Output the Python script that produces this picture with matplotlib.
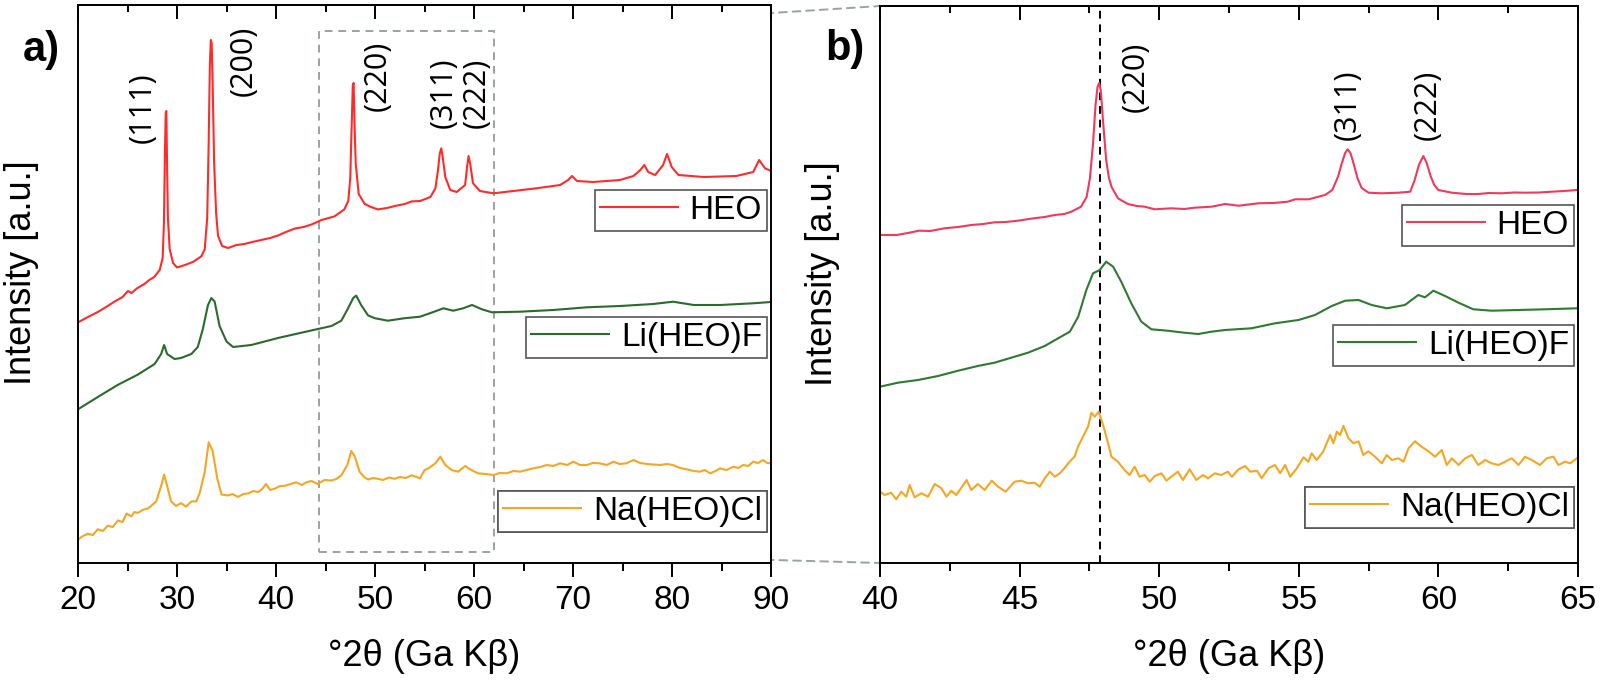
import matplotlib
matplotlib.use("Agg")
import matplotlib.pyplot as plt
from matplotlib.patches import Rectangle, ConnectionPatch
from matplotlib.ticker import MultipleLocator

plt.rcParams['font.family'] = ['Liberation Sans', 'DejaVu Sans']

# ---------------- data ----------------
# Panel a: 2theta, intensity (arbitrary units)
HEO_A = [(20.0, 240.6), (21.0, 246), (22.0, 251), (23.0, 257), (23.7, 261.5), (24.5, 266),
         (25.05, 272), (25.4, 270), (26.0, 275), (26.7, 279), (27.2, 283), (27.7, 286),
         (28.25, 293), (28.55, 305), (28.68, 340), (28.78, 410), (28.86, 450), (28.92, 452),
         (28.98, 410), (29.08, 345), (29.26, 314),
         (29.6, 300), (30.0, 295.5), (30.8, 298), (31.6, 301), (32.45, 306.6), (32.8, 313.6),
         (33.05, 345), (33.2, 420), (33.32, 500), (33.42, 523), (33.5, 520), (33.6, 480),
         (33.75, 400), (33.95, 350), (34.14, 327.5),
         (34.55, 317), (35.15, 315), (36.0, 318), (36.8, 319), (37.6, 321), (38.5, 323),
         (39.4, 325), (40.2, 327.5), (41.0, 331), (41.9, 334.5), (42.8, 336), (43.6, 338.6),
         (44.6, 343), (45.9, 346.6), (46.9, 353.6), (47.3, 362), (47.5, 385), (47.65, 440),
         (47.76, 478), (47.84, 480), (47.93, 440), (48.05, 400), (48.35, 369), (48.96, 359),
         (49.6, 356), (50.3, 353.6), (51.2, 355),
         (52.0, 357), (53.0, 359), (53.7, 361.6), (54.55, 362), (55.6, 366), (56.1, 374.7),
         (56.35, 392), (56.55, 410), (56.7, 414.7), (56.85, 405), (57.1, 386), (57.6, 373),
         (58.25, 371), (59.1, 378), (59.3, 396), (59.45, 407), (59.6, 400), (59.9, 379.7),
         (60.6, 372), (61.96, 369.7), (63.97, 372), (66.3, 374.7),
         (68.7, 378), (69.5, 383), (69.9, 387), (70.4, 382), (72.05, 381), (74.75, 383),
         (76.1, 387), (76.8, 393), (77.2, 398), (77.6, 391), (78.3, 388), (79.1, 398),
         (79.5, 409), (79.97, 396), (80.65, 388), (83.2, 386), (86.5, 387), (88.2, 391),
         (88.8, 403), (89.4, 394.7), (90.0, 392)]

LIF_A = [(20.0, 153.7), (22.0, 166), (24.0, 178), (26.06, 188.5), (27.74, 199), (28.4, 209),
         (28.7, 218), (29.0, 209), (29.76, 204), (30.4, 205), (31.45, 209), (32.1, 216),
         (32.6, 233.6), (33.13, 258), (33.47, 265), (33.8, 261.5), (34.3, 237), (35.0, 221.5),
         (35.66, 216), (37.5, 218), (40.2, 225), (43.6, 232.6), (45.6, 237), (46.6, 242.3),
         (47.27, 254.5), (47.8, 265), (48.1, 267.4), (48.6, 258), (49.3, 247.6), (49.97, 244.8),
         (51.3, 242.3), (53.0, 244.8), (54.55, 246.3), (55.9, 251), (56.9, 254.7), (57.9, 252.3),
         (58.9, 254.7), (59.8, 258), (60.8, 253.7), (61.8, 250.7), (64.65, 251.3), (68.0, 253),
         (71.4, 255.7), (74.75, 257), (78.1, 259), (80.1, 261.3), (82.2, 258), (84.85, 258),
         (88.2, 259.7), (90.0, 261)]

NACL_A = [(20.0, 23.4), (20.5, 27), (21.0, 29.3), (21.5, 28), (22.0, 33.8), (22.5, 32),
          (23.0, 37.3), (23.5, 36), (24.04, 42.5), (24.5, 41), (24.9, 49.4), (25.4, 46.7),
          (25.7, 51), (26.06, 50.1), (26.5, 53), (27.07, 54.6), (27.5, 58), (27.9, 61.6),
          (28.4, 77.2), (28.7, 88.4), (29.0, 77.2), (29.4, 61.6), (29.9, 57.1), (30.4, 59.9),
          (30.9, 56.4), (31.45, 61.6), (31.95, 61.6), (32.3, 70.3), (32.8, 91.1), (33.2, 120.7),
          (33.6, 112), (34.07, 84.2), (34.5, 68.5), (35.15, 67.5), (35.6, 69), (36.16, 66.1),
          (36.7, 69), (37.2, 69.6), (37.7, 72), (38.2, 71), (38.6, 74), (39.0, 79), (39.4, 73),
          (39.9, 74.4), (40.4, 77), (40.9, 77.2), (41.5, 79), (42.05, 80.7), (42.6, 78),
          (43.06, 80.7), (43.6, 82), (44.2, 79), (44.9, 83), (45.6, 82.5), (46.1, 84),
          (46.6, 87.7), (47.2, 98), (47.6, 112), (47.95, 106.8), (48.45, 91.1), (48.9, 86),
          (49.3, 83.5), (49.8, 85), (50.3, 84.2), (50.8, 83), (51.4, 85.5), (52.0, 84.2),
          (52.5, 86), (53.1, 85), (53.7, 87.7), (54.2, 86), (54.55, 84.7), (55.0, 92.9),
          (55.4, 94.7), (56.1, 99.7), (56.6, 106.3), (57.1, 98), (57.75, 93), (58.4, 91.3),
          (59.1, 97), (59.6, 93.7), (60.4, 89.7), (61.2, 89), (61.96, 88), (62.6, 90),
          (63.3, 89.7), (64.0, 92), (64.65, 91.3), (65.3, 93), (66.0, 94.7), (66.7, 96),
          (67.35, 98), (68.0, 97), (68.7, 99.7), (69.4, 98), (70.04, 101.3), (70.7, 98),
          (71.4, 98), (72.0, 100), (72.7, 99.7), (73.4, 98), (74.1, 101.3), (74.7, 99),
          (75.4, 99.7), (76.1, 103), (76.8, 100), (77.45, 99), (78.1, 98.5), (78.8, 98),
          (79.5, 99), (80.1, 98), (80.8, 95), (81.5, 93.7), (82.2, 92), (82.8, 91.3),
          (83.3, 93), (83.85, 89.7), (84.4, 92), (84.85, 94.7), (85.5, 93), (86.2, 96.3),
          (86.7, 95), (87.2, 98), (87.7, 97), (88.2, 101.3), (88.7, 100), (89.2, 103),
          (89.6, 100), (90.0, 99.7)]

# Panel b: 2theta, intensity (arbitrary units)
HEO_B = [(40.0, 328), (40.6, 328), (41.0, 330), (41.4, 332.3), (41.8, 332), (42.3, 334.7),
         (42.8, 336), (43.27, 338), (43.7, 339), (44.1, 340.7), (44.5, 341), (44.94, 342.3),
         (45.5, 344.7), (45.9, 346), (46.26, 348), (46.6, 349), (46.85, 351.3), (47.2, 356.3),
         (47.4, 366), (47.52, 385), (47.63, 419.7), (47.72, 458), (47.79, 476), (47.85, 480),
         (47.91, 472), (47.98, 445), (48.1, 403), (48.2, 385), (48.29, 376.3), (48.52, 364.7),
         (48.88, 359), (49.2, 357), (49.48, 356.3),
         (49.84, 353.7), (50.43, 354.7), (50.9, 354), (51.27, 355.3), (51.87, 356.3),
         (52.36, 359), (52.84, 357.3), (53.55, 359.7), (54.1, 360), (54.6, 361.3), (54.87, 363.7),
         (55.35, 363.7), (55.94, 368), (56.2, 373), (56.4, 386), (56.54, 399.7), (56.66, 410),
         (56.75, 413.7), (56.85, 410), (56.96, 399.7), (57.1, 385), (57.25, 375), (57.5, 370.3),
         (57.97, 369.7), (58.57, 370.3), (58.99, 371.3), (59.15, 383), (59.3, 398), (59.46, 407),
         (59.58, 400), (59.72, 387), (59.85, 378), (60.0, 373), (60.48, 370.3),
         (61.0, 369), (61.43, 369), (61.8, 370), (62.27, 369.7), (62.7, 370.5), (63.1, 370.3),
         (63.6, 370.5), (64.06, 371.3), (64.5, 372), (64.96, 373)]

LIF_B = [(40.0, 176.3), (40.64, 180.3), (41.36, 183), (42.08, 187), (42.8, 192.3), (43.5, 197),
         (44.1, 200.3), (44.7, 205.3), (45.3, 210.3), (45.9, 217), (46.38, 224.7), (46.8, 231.3),
         (47.1, 246.3), (47.39, 273), (47.63, 289.7), (47.87, 293), (48.1, 301.3), (48.35, 296.3),
         (48.64, 281.3), (49.0, 259.7), (49.36, 241.3), (49.72, 233.7), (50.3, 232.3),
         (50.9, 230.3), (51.4, 229), (51.87, 231.3), (52.36, 233), (53.3, 234.7), (54.15, 239.7),
         (54.99, 243), (55.58, 248), (56.18, 257), (56.66, 262.3), (57.14, 263), (57.61, 258),
         (58.15, 254.7), (58.8, 258), (59.28, 268), (59.52, 265.7), (59.82, 272.3), (60.24, 267),
         (60.72, 260.3), (61.25, 253.7), (61.9, 252.3), (62.87, 253), (63.82, 253.7),
         (64.96, 254.7)]

NACL_B = [(40.0, 71.3), (40.17, 68), (40.4, 70.3), (40.58, 63.7), (40.76, 71.3), (40.94, 66.3),
          (41.06, 78), (41.24, 65.7), (41.48, 69.7), (41.72, 66.3), (41.96, 79), (42.2, 74.7),
          (42.38, 66.3), (42.55, 72.3), (42.73, 68), (42.9, 74.7), (43.1, 83), (43.27, 73),
          (43.5, 79), (43.75, 73), (44.0, 82.3), (44.23, 76.3), (44.5, 71.3), (44.82, 81.3),
          (45.06, 82.3), (45.3, 79.7), (45.54, 80.3), (45.72, 76.3), (45.9, 84.7), (46.08, 91.3),
          (46.26, 86.3), (46.44, 89.7), (46.6, 94.7), (46.79, 101.3), (46.97, 106.3),
          (47.09, 116.3), (47.27, 126.3), (47.45, 136.3), (47.57, 150.3), (47.69, 146.3),
          (47.83, 151.3), (47.99, 138), (48.17, 119.7), (48.29, 106.3), (48.52, 101.3),
          (48.76, 93), (48.94, 88), (49.12, 96.3), (49.3, 86.3), (49.48, 88), (49.66, 81.3),
          (49.84, 87), (50.08, 89.7), (50.26, 82.3), (50.43, 86.3), (50.67, 91.3), (50.85, 83),
          (51.09, 93.7), (51.33, 83), (51.57, 88), (51.75, 84.7), (51.99, 89.7), (52.22, 88),
          (52.46, 91.3), (52.6, 86.3), (52.84, 93.7), (53.08, 97), (53.26, 91.3), (53.5, 92.3),
          (53.67, 84.7), (53.91, 94.7), (54.15, 98), (54.33, 89.7), (54.51, 98), (54.69, 86.3),
          (54.93, 94.7), (55.17, 105.7), (55.34, 101.3), (55.46, 109.7), (55.64, 103),
          (55.88, 111.7), (56.12, 128), (56.24, 119.7), (56.36, 131.3), (56.48, 128),
          (56.6, 137), (56.78, 124.7), (56.96, 119.7), (57.14, 121.7), (57.31, 108),
          (57.49, 111.7), (57.73, 106.3), (57.97, 99.7), (58.15, 108), (58.33, 103),
          (58.57, 104.7), (58.75, 101.3), (58.93, 114.7), (59.16, 121.7), (59.4, 116.3),
          (59.64, 111.7), (59.88, 106.3), (60.12, 113), (60.3, 98), (60.48, 104.7), (60.72, 98),
          (60.96, 104.7), (61.2, 108), (61.43, 98), (61.67, 103), (61.91, 99.7), (62.15, 98),
          (62.39, 101.3), (62.63, 104.7), (62.87, 98), (63.1, 106.3), (63.34, 103), (63.64, 98),
          (63.88, 104.7), (64.12, 106.3), (64.3, 98), (64.54, 101.3), (64.72, 99.7),
          (64.96, 104.7)]

SERIES_NAMES = ["HEO", "Li(HEO)F", "Na(HEO)Cl"]
PEAKS_A = ["(111)", "(200)", "(220)", "(311)", "(222)"]
PEAK_POS_A = [26.5, 36.7, 50.3, 56.9, 60.3]
PEAKS_B = ["(220)", "(311)", "(222)"]
PEAK_POS_B = [49.15, 56.76, 59.63]
REF_LINE_B = 47.87
ZOOM_RANGE = (44.3, 62.0)

XTICKS_A = [20, 30, 40, 50, 60, 70, 80, 90]
XTICKS_B = [40, 45, 50, 55, 60, 65]

# ---------------- styling ----------------
W, H = 1600, 682
fig = plt.figure(figsize=(W / 100, H / 100), dpi=100)

def fpos(l, t, r, b):
    return [l / W, 1 - b / H, (r - l) / W, (b - t) / H]

axA = fig.add_axes(fpos(78, 5, 771, 563))
axB = fig.add_axes(fpos(880, 6, 1578, 563))

col_a = ["#ff2b2b", "#2a6a2a", "#f5a623"]
col_b = ["#f03a5c", "#2e7a2e", "#f5a623"]

def unzip(pairs):
    return [p[0] for p in pairs], [p[1] for p in pairs]

def style_axis(ax, xmin, xmax, ymax, minor, ticks):
    ax.set_xlim(xmin, xmax)
    ax.set_ylim(0, ymax)
    ax.set_xticks(ticks)
    ax.xaxis.set_minor_locator(MultipleLocator(minor))
    ax.set_yticks([])
    for s in ax.spines.values():
        s.set_linewidth(1.4)
        s.set_color("black")
    ax.tick_params(axis='x', which='major', direction='out', length=10, width=1.4,
                   labelsize=24, pad=6)
    ax.tick_params(axis='x', which='minor', direction='out', length=6, width=1.4)
    sec = ax.secondary_xaxis('top')
    sec.set_xticks(ticks)
    sec.xaxis.set_minor_locator(MultipleLocator(minor))
    sec.tick_params(axis='x', which='major', direction='in', length=10, width=1.4,
                    labeltop=False)
    sec.tick_params(axis='x', which='minor', direction='in', length=5, width=1.4)
    sec.spines['top'].set_linewidth(1.4)
    ax.set_xlabel("°2θ (Ga Kβ)", fontsize=26)
    ax.xaxis.label.set_va('center')
    ax.xaxis.set_label_coords(0.5, -0.167)
    ax.set_ylabel("Intensity [a.u.]", fontsize=26)
    ax.yaxis.label.set_va('center')
    ax.yaxis.set_label_coords(-0.082, 0.52)

def add_legends(ax, handles, tops, xr):
    for h, name, t in zip(handles, SERIES_NAMES, tops):
        leg = ax.legend([h], [name], loc='upper right', bbox_to_anchor=(xr, t),
                        bbox_transform=ax.transAxes, borderaxespad=0, fontsize=24,
                        frameon=True, fancybox=False, framealpha=1, edgecolor='#555555',
                        handlelength=2.35, handletextpad=0.35, borderpad=0.15)
        leg.get_frame().set_linewidth(1.2)
        ax.add_artist(leg)

# ---- panel a ----
style_axis(axA, 20, 90, 558, 5, XTICKS_A)
hA = []
for pairs, c in zip([HEO_A, LIF_A, NACL_A], col_a):
    x, y = unzip(pairs)
    ln, = axA.plot(x, y, color=c, lw=1.5)
    hA.append(ln)
add_legends(axA, hA, [0.6685, 0.4409, 0.129], 0.9942)
peak_y_a = [455, 502, 487, 470, 470]
for lab, xp, yp in zip(PEAKS_A, PEAK_POS_A, peak_y_a):
    axA.text(xp, yp, lab, rotation=90, ha='center', va='center', fontsize=22,
             family=['Open Sans', 'DejaVu Sans'])
rect = Rectangle((ZOOM_RANGE[0], 11), ZOOM_RANGE[1] - ZOOM_RANGE[0], 521, fill=False,
                 ls=(0, (4, 3)), lw=1.4, edgecolor='#9aa3a3', zorder=1)
axA.add_patch(rect)

# ---- panel b ----
style_axis(axB, 40, 65, 557, 2.5, XTICKS_B)
hB = []
for pairs, c in zip([HEO_B, LIF_B, NACL_B], col_b):
    x, y = unzip(pairs)
    ln, = axB.plot(x, y, color=c, lw=1.5)
    hB.append(ln)
add_legends(axB, hB, [0.6427, 0.4273, 0.1364], 0.9943)
axB.axvline(REF_LINE_B, color='black', ls=(0, (4, 3)), lw=1.4, zorder=1)
peak_y_b = [486, 458, 458]
for lab, xp, yp in zip(PEAKS_B, PEAK_POS_B, peak_y_b):
    axB.text(xp, yp, lab, rotation=90, ha='center', va='center', fontsize=22,
             family=['Open Sans', 'DejaVu Sans'])

# connectors
for ya, yb in [(532, 1.0), (11, 0.0)]:
    con = ConnectionPatch(xyA=(ZOOM_RANGE[1], ya), coordsA=axA.transData,
                          xyB=(0, yb), coordsB=axB.transAxes,
                          ls=(0, (4, 3)), lw=1.4, color='#9aa3a3', zorder=0)
    fig.add_artist(con)

fig.text(41 / W, 1 - 50 / H, "a)", fontsize=30, fontweight='bold', ha='center', va='center')
fig.text(845 / W, 1 - 49 / H, "b)", fontsize=30, fontweight='bold', ha='center', va='center')

fig.savefig("out.png", dpi=100)
